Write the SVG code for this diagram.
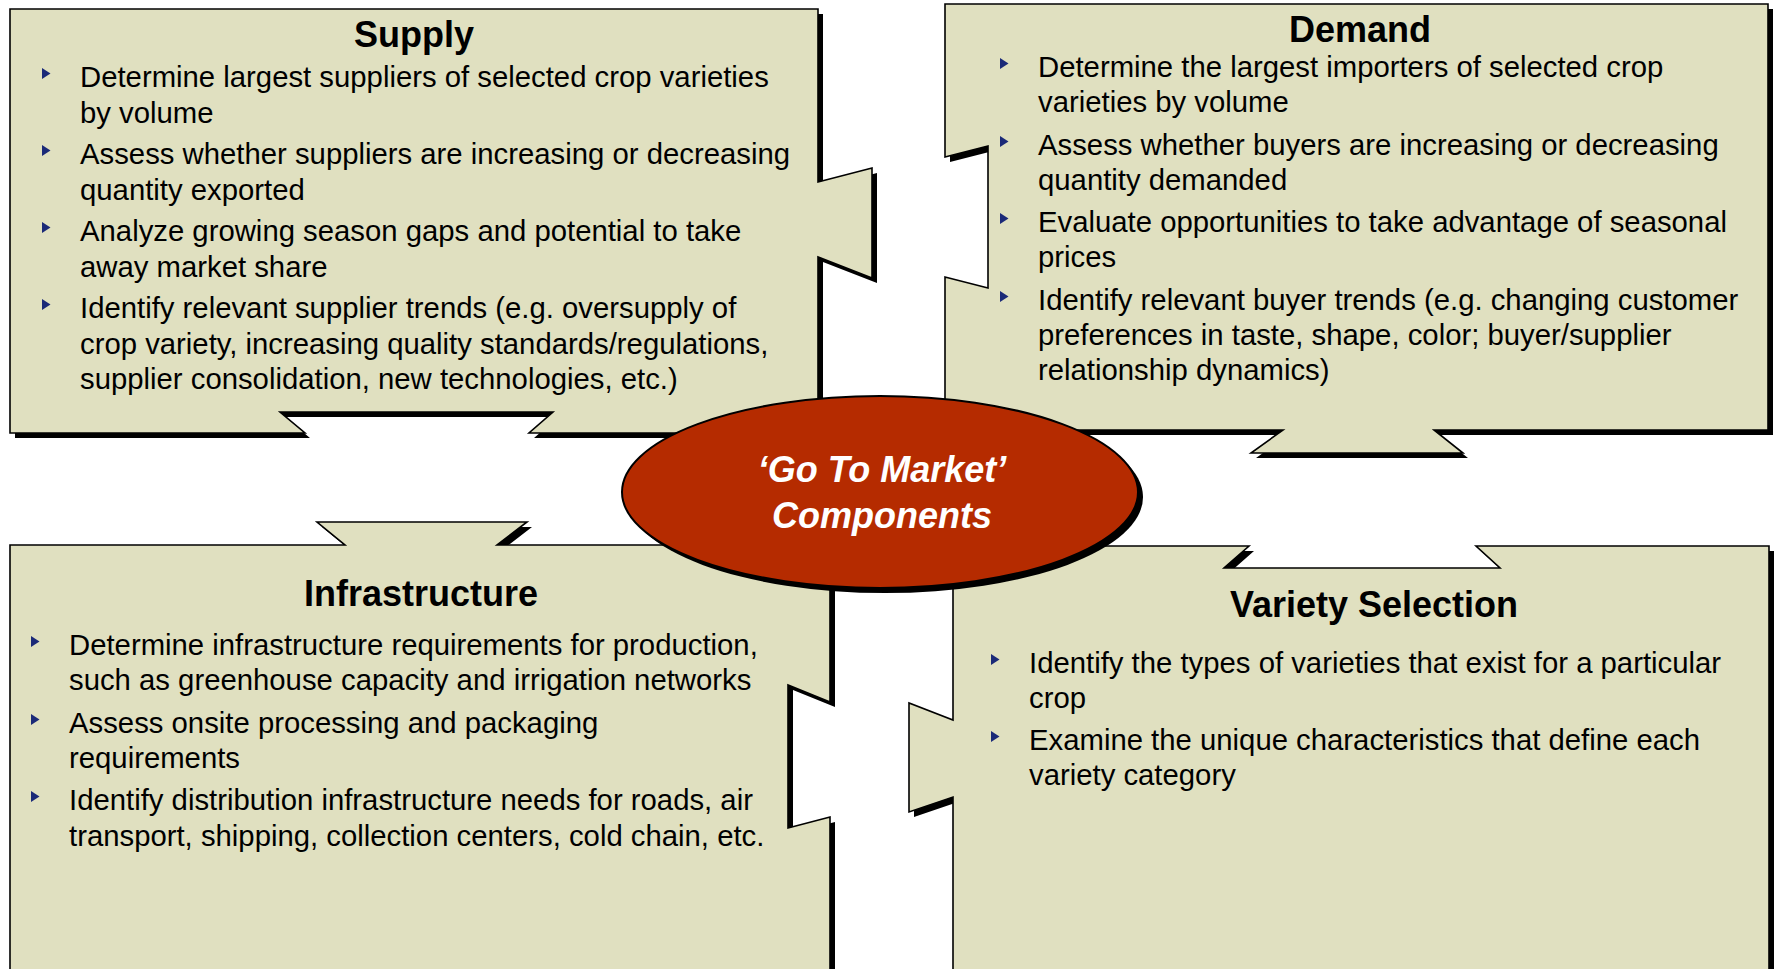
<svg xmlns="http://www.w3.org/2000/svg" xmlns:xlink="http://www.w3.org/1999/xlink" width="1774" height="969" viewBox="0 0 1774 969">
<style>
.shadow{fill:#000;stroke:none}
.box{fill:#E0E0C0;stroke:#000;stroke-width:1.6;stroke-linejoin:miter}
.title{font-family:"Liberation Sans",Arial,sans-serif;font-size:36px;font-weight:bold;fill:#000;text-anchor:middle}
.body{font-family:"Liberation Sans",Arial,sans-serif;font-size:29.3px;fill:#000}
.bul{fill:#1B2A78}
.center{font-family:"Liberation Sans",Arial,sans-serif;font-size:36px;font-weight:bold;font-style:italic;fill:#fff;text-anchor:middle}
</style>
<defs>
<polygon id="supplyShape" points="10,9 818,9 818,182 872,168 872,278 818,257 818,433 529,433 553,412 280,412 305,433 10,433"/>
<polygon id="demandShape" points="945,4 1768,4 1768,430 1434,430 1463,453 1251,453 1283,430 945,430 945,277 988,288 988,146 945,157"/>
<polygon id="infraShape" points="10,545 345,545 317,522 527,522 497,545 830,545 830,702 788,685 788,828 830,817 830,990 10,990"/>
<polygon id="varietyShape" points="953,546 1249,546 1224,568 1500,568 1476,546 1769,546 1769,990 953,990 953,797 909,812 909,703 953,720"/>
<path id="b" d="M0,0 L8.5,5.5 L0,11 Z"/>
</defs>
<rect width="1774" height="969" fill="#fff"/>

<g id="supply">
<use xlink:href="#supplyShape" class="shadow" transform="translate(5,5)"/>
<use xlink:href="#supplyShape" class="box"/>
<text class="title" x="414" y="47">Supply</text>
<use xlink:href="#b" class="bul" x="42" y="68"/>
<use xlink:href="#b" class="bul" x="42" y="145"/>
<use xlink:href="#b" class="bul" x="42" y="222"/>
<use xlink:href="#b" class="bul" x="42" y="299"/>
<text class="body" x="80" y="87">Determine largest suppliers of selected crop varieties</text>
<text class="body" x="80" y="122.5">by volume</text>
<text class="body" x="80" y="164">Assess whether suppliers are increasing or decreasing</text>
<text class="body" x="80" y="199.5">quantity exported</text>
<text class="body" x="80" y="241">Analyze growing season gaps and potential to take</text>
<text class="body" x="80" y="276.5">away market share</text>
<text class="body" x="80" y="318">Identify relevant supplier trends (e.g. oversupply of</text>
<text class="body" x="80" y="353.5">crop variety, increasing quality standards/regulations,</text>
<text class="body" x="80" y="389">supplier consolidation, new technologies, etc.)</text>
</g>

<g id="demand">
<use xlink:href="#demandShape" class="shadow" transform="translate(5,5)"/>
<use xlink:href="#demandShape" class="box"/>
<text class="title" x="1360" y="42">Demand</text>
<use xlink:href="#b" class="bul" x="1000" y="58"/>
<use xlink:href="#b" class="bul" x="1000" y="136"/>
<use xlink:href="#b" class="bul" x="1000" y="213"/>
<use xlink:href="#b" class="bul" x="1000" y="291"/>
<text class="body" x="1038" y="77">Determine the largest importers of selected crop</text>
<text class="body" x="1038" y="112">varieties by volume</text>
<text class="body" x="1038" y="155">Assess whether buyers are increasing or decreasing</text>
<text class="body" x="1038" y="190">quantity demanded</text>
<text class="body" x="1038" y="232">Evaluate opportunities to take advantage of seasonal</text>
<text class="body" x="1038" y="267">prices</text>
<text class="body" x="1038" y="310">Identify relevant buyer trends (e.g. changing customer</text>
<text class="body" x="1038" y="345">preferences in taste, shape, color; buyer/supplier</text>
<text class="body" x="1038" y="380">relationship dynamics)</text>
</g>

<g id="infrastructure">
<use xlink:href="#infraShape" class="shadow" transform="translate(5,5)"/>
<use xlink:href="#infraShape" class="box"/>
<text class="title" x="421" y="606">Infrastructure</text>
<use xlink:href="#b" class="bul" x="31" y="636"/>
<use xlink:href="#b" class="bul" x="31" y="714"/>
<use xlink:href="#b" class="bul" x="31" y="791"/>
<text class="body" x="69" y="655">Determine infrastructure requirements for production,</text>
<text class="body" x="69" y="690">such as greenhouse capacity and irrigation networks</text>
<text class="body" x="69" y="733">Assess onsite processing and packaging</text>
<text class="body" x="69" y="768">requirements</text>
<text class="body" x="69" y="810">Identify distribution infrastructure needs for roads, air</text>
<text class="body" x="69" y="846">transport, shipping, collection centers, cold chain, etc.</text>
</g>

<g id="variety">
<use xlink:href="#varietyShape" class="shadow" transform="translate(5,5)"/>
<use xlink:href="#varietyShape" class="box"/>
<text class="title" x="1374" y="617">Variety Selection</text>
<use xlink:href="#b" class="bul" x="991" y="654"/>
<use xlink:href="#b" class="bul" x="991" y="731"/>
<text class="body" x="1029" y="673">Identify the types of varieties that exist for a particular</text>
<text class="body" x="1029" y="708">crop</text>
<text class="body" x="1029" y="750">Examine the unique characteristics that define each</text>
<text class="body" x="1029" y="785">variety category</text>
</g>

<g id="connectors"></g>

<g id="go-to-market">
<ellipse cx="885" cy="497" rx="258" ry="96" fill="#000"/>
<ellipse cx="880" cy="492" rx="258" ry="96" fill="#B52B00" stroke="#000" stroke-width="2"/>
<text class="center" x="882" y="482">‘Go To Market’</text>
<text class="center" x="882" y="528">Components</text>
</g>
</svg>
